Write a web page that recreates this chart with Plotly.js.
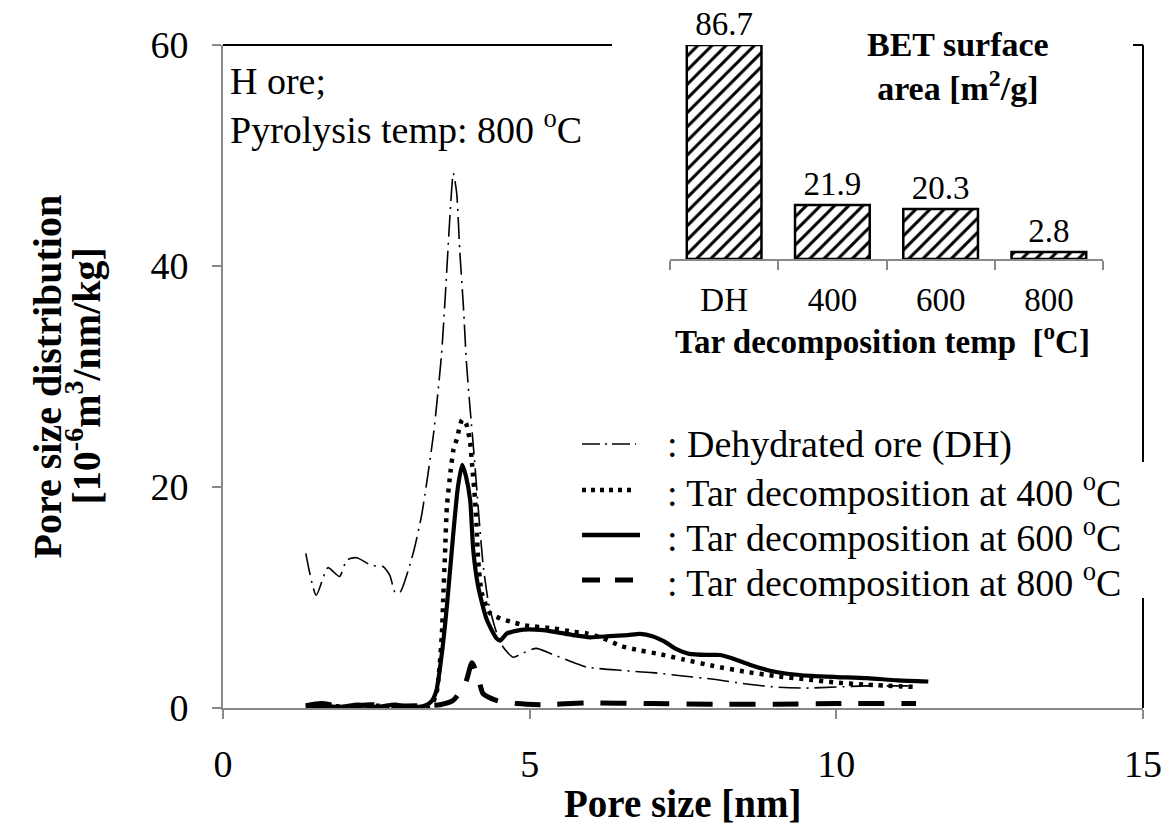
<!DOCTYPE html>
<html>
<head>
<meta charset="utf-8">
<script src="https://cdn.plot.ly/plotly-3.0.1.min.js"></script>
<style>
  html, body { margin: 0; padding: 0; background: #ffffff; }
  #chart { width: 1164px; height: 833px; }
</style>
</head>
<body>
<div id="chart"></div>
<script>
// ---------- Main chart data: pore size distribution ----------
const dhX = [1.35,1.52,1.71,1.9,2.02,2.18,2.42,2.61,2.72,2.81,2.89,3.1,3.24,3.43,3.56,3.62,3.70,3.755,3.81,3.86,3.92,3.97,4.03,4.10,4.17,4.24,4.33,4.45,4.57,4.73,4.9,5.11,5.33,5.77,5.93,6.5,7.0,7.5,8.0,8.5,9.0,9.5,10.0,10.5,11.0,11.2];
const dhY = [14.0,10.2,12.7,11.9,13.4,13.6,12.9,12.8,12.0,10.4,10.5,14.0,17.5,24.7,31.8,36.9,44.5,48.4,46.6,41.4,36.3,31.2,27.0,22.5,17.5,13.0,9.5,7.0,5.5,4.6,5.0,5.4,4.95,4.0,3.7,3.4,3.2,2.9,2.6,2.2,1.9,1.8,1.9,2.0,2.0,2.0];

const t400X = [1.35,1.7,2.0,2.5,3.0,3.3,3.40,3.48,3.53,3.57,3.59,3.62,3.65,3.71,3.755,3.81,3.90,3.96,4.03,4.06,4.11,4.14,4.16,4.22,4.35,4.52,4.70,4.90,5.39,5.71,5.93,6.2,6.5,6.8,7.1,7.5,8.0,8.5,9.0,9.5,10.0,10.5,11.3];
const t400Y = [0.1,0.2,0.1,0.2,0.1,0.1,0.3,1.3,3.7,6.8,9.8,14.0,18.2,21.4,23.3,24.3,26.1,25.8,24.0,22.1,18.8,15.8,13.4,10.4,8.6,8.1,7.8,7.5,7.2,6.9,6.75,6.3,5.6,5.2,4.9,4.4,3.8,3.3,2.9,2.6,2.3,2.1,1.9];

const t600X = [1.35,1.6,1.9,2.2,2.5,2.8,3.0,3.2,3.29,3.40,3.48,3.57,3.65,3.755,3.83,3.90,3.96,4.03,4.08,4.16,4.30,4.46,4.52,4.63,4.90,5.22,5.71,5.98,6.3,6.6,6.8,7.0,7.2,7.4,7.6,7.9,8.1,8.3,8.6,8.9,9.2,9.6,10.0,10.5,11.0,11.5];
const t600Y = [0.1,0.2,0.1,0.3,0.1,0.3,0.1,0.1,0.2,0.6,1.6,5.0,9.2,15.8,20.0,22.0,21.0,18.8,14.3,11.0,8.0,6.3,6.1,6.75,7.1,7.05,6.6,6.4,6.5,6.6,6.7,6.5,6.0,5.3,4.9,4.8,4.8,4.5,3.9,3.4,3.1,2.9,2.8,2.7,2.5,2.4];

const t800X = [1.35,1.6,2.0,2.4,2.8,3.2,3.54,3.755,3.95,4.06,4.16,4.24,4.40,4.52,4.79,5.22,5.9,7.0,8.0,9.0,10.0,11.3];
const t800Y = [0.2,0.4,0.1,0.3,0.2,0.2,0.3,0.7,2.2,4.1,2.8,1.3,0.8,0.6,0.4,0.3,0.45,0.4,0.35,0.35,0.4,0.4];

const seriesNames = [': Dehydrated ore (DH)', ': Tar decomposition at 400 <sup>o</sup>C', ': Tar decomposition at 600 <sup>o</sup>C', ': Tar decomposition at 800 <sup>o</sup>C'];

// ---------- Inset data: BET surface area ----------
const categories = ['DH', '400', '600', '800'];
const betValues = [86.7, 21.9, 20.3, 2.8];

// ---------- Axis ticks ----------
const xTicks = [0, 5, 10, 15];
const yTicks = [0, 20, 40, 60];
const insetBoundaries = [-0.5, 0.5, 1.5, 2.5, 3.5];

// ---------- Styling ----------
const SERIF = '"Times New Roman", "Liberation Serif", "DejaVu Serif", serif';
const AXIS_GRAY = '#898989';
const L = 223, T = 45, W = 920, H = 663; // plot area in px
const px = v => (v - L) / W;            // px -> paper x
const py = v => (708 - v) / H;          // px -> paper y

const lineStyles = [
  {color: 'black', width: 1.6, dash: '22px,6px,2px,6px'},
  {color: 'black', width: 4.5, dash: '4px,6px'},
  {color: 'black', width: 4.2, dash: 'solid'},
  {color: 'black', width: 5, dash: '26px,17px'}
];

const xs = [dhX, t400X, t600X, t800X];
const ys = [dhY, t400Y, t600Y, t800Y];

const traces = xs.map((xv, i) => ({
  type: 'scatter', mode: 'lines', x: xv, y: ys[i], name: seriesNames[i],
  line: Object.assign({shape: 'spline', smoothing: 0.6}, lineStyles[i]),
  xaxis: 'x', yaxis: 'y', cliponaxis: false, showlegend: false, hoverinfo: 'skip'
}));

traces.push({
  type: 'bar', x: categories, y: betValues, xaxis: 'x2', yaxis: 'y2',
  marker: {
    color: 'white',
    line: {color: 'black', width: 2.5},
    pattern: {shape: '/', fgcolor: 'black', bgcolor: 'white', size: 10, solidity: 0.3}
  },
  text: betValues.map(v => v.toFixed(1)), textposition: 'outside',
  textfont: {family: SERIF, size: 33, color: 'black'},
  cliponaxis: false, showlegend: false, hoverinfo: 'skip'
});

// Legend drawn as sample lines + text
const legendRows = [444, 490, 535, 580];
const legendShapes = legendRows.map((r, i) => ({
  type: 'line', xref: 'paper', yref: 'paper',
  x0: px(582), x1: px(i === 2 ? 640 : 636), y0: py(r), y1: py(r),
  line: {color: 'black', width: i === 0 ? 1.6 : (i === 3 ? 5 : 4.5),
         dash: i === 0 ? '18px,5px,2px,5px' : (i === 1 ? '4px,5px' : (i === 2 ? 'solid' : '18px,15px'))}
}));
const legendAnns = legendRows.map((r, i) => ({
  xref: 'paper', yref: 'paper', x: px(665), y: py(r), xanchor: 'left', yanchor: 'middle',
  text: seriesNames[i], showarrow: false, font: {family: SERIF, size: 38, color: 'black'}
}));

const borderShapes = [
  {type: 'line', xref: 'paper', yref: 'paper', x0: 0, x1: px(612), y0: 1, y1: 1, line: {color: 'black', width: 2}},
  {type: 'line', xref: 'paper', yref: 'paper', x0: px(1133), x1: 1, y0: 1, y1: 1, line: {color: 'black', width: 2}},
  {type: 'line', xref: 'paper', yref: 'paper', x0: 1, x1: 1, y0: 1, y1: py(462), line: {color: 'black', width: 2}},
  {type: 'line', xref: 'paper', yref: 'paper', x0: 1, x1: 1, y0: py(598), y1: 0, line: {color: 'black', width: 2}}
];

const layout = {
  width: 1164, height: 833,
  margin: {l: L, r: 1164 - L - W, t: T, b: 833 - T - H, pad: 0},
  paper_bgcolor: 'white', plot_bgcolor: 'rgba(0,0,0,0)',
  showlegend: false,
  bargap: 0.31,
  font: {family: SERIF, color: 'black'},
  xaxis: {
    domain: [0, 1], range: [0, 15], tickmode: 'array', tickvals: xTicks,
    showline: true, linecolor: AXIS_GRAY, linewidth: 2,
    ticks: 'outside', ticklen: 9, tickwidth: 2, tickcolor: AXIS_GRAY,
    showgrid: false, zeroline: false, ticklabelstandoff: 12,
    tickfont: {family: SERIF, size: 38, color: 'black'}, anchor: 'y'
  },
  yaxis: {
    domain: [0, 1], range: [0, 60], tickmode: 'array', tickvals: yTicks,
    showline: true, linecolor: AXIS_GRAY, linewidth: 2,
    ticks: 'outside', ticklen: 9, tickwidth: 2, tickcolor: AXIS_GRAY,
    showgrid: false, zeroline: false, ticklabelstandoff: 16,
    tickfont: {family: SERIF, size: 38, color: 'black'}, anchor: 'x'
  },
  xaxis2: {
    domain: [px(670), px(1103)], anchor: 'y2', type: 'category',
    categoryorder: 'array', categoryarray: categories,
    showline: true, linecolor: AXIS_GRAY, linewidth: 2,
    ticks: 'outside', tickson: 'boundaries', ticklen: 9, tickwidth: 2, tickcolor: AXIS_GRAY,
    showgrid: false, zeroline: false, ticklabelstandoff: 10,
    tickfont: {family: SERIF, size: 33, color: 'black'}
  },
  xaxis3: {
    overlaying: 'x2', anchor: 'y2', type: 'linear', range: [-0.5, 3.5],
    tickmode: 'array', tickvals: insetBoundaries, ticks: 'inside', ticklen: 10,
    tickwidth: 2, tickcolor: AXIS_GRAY, showticklabels: false,
    showline: false, showgrid: false, zeroline: false
  },
  yaxis2: {
    domain: [py(259), 1], anchor: 'x2', range: [0, 86.7], visible: false
  },
  shapes: borderShapes.concat(legendShapes),
  annotations: [
    {xref: 'paper', yref: 'paper', x: px(228), y: py(58), xanchor: 'left', yanchor: 'top', align: 'left',
     text: 'H ore;<br>Pyrolysis temp: 800 <sup>o</sup>C', showarrow: false,
     font: {family: SERIF, size: 38, color: 'black'}},
    {xref: 'paper', yref: 'paper', x: px(47), y: 0.5, xanchor: 'center', yanchor: 'middle', textangle: -90,
     text: '<b>Pore size distribution</b>', showarrow: false,
     font: {family: SERIF, size: 40, color: 'black'}},
    {xref: 'paper', yref: 'paper', x: px(84), y: 0.5, xanchor: 'center', yanchor: 'middle', textangle: -90,
     text: '<b>[10<sup>-6</sup>m<sup>3</sup>/nm/kg]</b>', showarrow: false,
     font: {family: SERIF, size: 40, color: 'black'}},
    {xref: 'paper', yref: 'paper', x: 0.5, y: py(803), xanchor: 'center', yanchor: 'middle',
     text: '<b>Pore size [nm]</b>', showarrow: false,
     font: {family: SERIF, size: 39, color: 'black'}},
    {xref: 'paper', yref: 'paper', x: px(882), y: py(339), xanchor: 'center', yanchor: 'middle',
     text: '<b>Tar decomposition temp  [<sup>o</sup>C]</b>', showarrow: false,
     font: {family: SERIF, size: 33, color: 'black'}},
    {xref: 'paper', yref: 'paper', x: px(958), y: py(66), xanchor: 'center', yanchor: 'middle',
     text: '<b>BET surface<br>area [m<sup>2</sup>/g]</b>', showarrow: false,
     font: {family: SERIF, size: 34, color: 'black'}}
  ].concat(legendAnns)
};

Plotly.newPlot('chart', traces, layout, {displayModeBar: false, staticPlot: true});
</script>
</body>
</html>
